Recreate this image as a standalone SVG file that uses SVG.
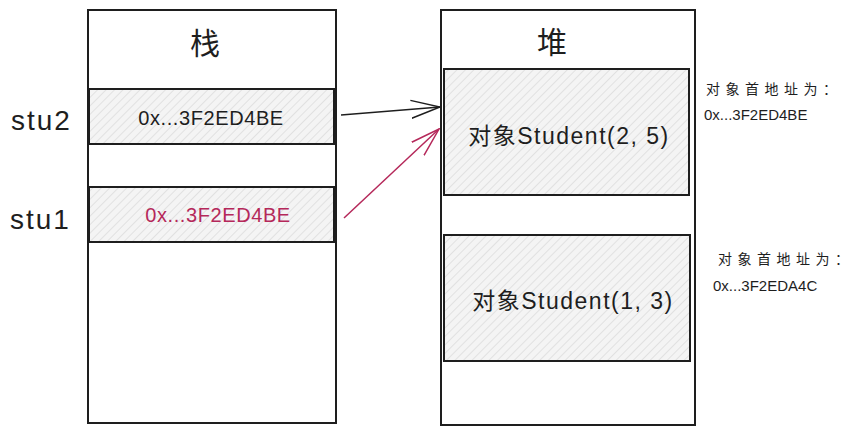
<svg xmlns="http://www.w3.org/2000/svg" width="863" height="436" viewBox="0 0 863 436">
<defs>
<pattern id="hatch" patternUnits="userSpaceOnUse" width="6" height="6" patternTransform="rotate(45)">
<rect width="6" height="6" fill="#f4f4f4"/>
<line x1="0" y1="0" x2="0" y2="6" stroke="#d4d4d4" stroke-width="1.2"/>
</pattern>
<marker id="ahb" viewBox="0 0 30 20" refX="29" refY="10" markerWidth="30" markerHeight="20" markerUnits="userSpaceOnUse" orient="auto">
<path d="M0,1 L29,10 L0,19" fill="none" stroke="#1e1e1e" stroke-width="1.5"/>
</marker>
<marker id="ahr" viewBox="0 0 30 20" refX="29" refY="10" markerWidth="30" markerHeight="20" markerUnits="userSpaceOnUse" orient="auto">
<path d="M0,1 L29,10 L0,19" fill="none" stroke="#b5285a" stroke-width="1.5"/>
</marker>
</defs>
<style>
.frame{fill:#fff;stroke:#1e1e1e;stroke-width:2}
.cell{fill:url(#hatch);stroke:#1e1e1e;stroke-width:2}
text{font-family:"Liberation Sans","Noto Sans CJK SC",sans-serif;fill:#1e1e1e}
.t{font-size:30px;text-anchor:middle}
.c{font-size:20px;letter-spacing:0.6px;text-anchor:middle}
.o{font-size:23px;letter-spacing:1.5px;text-anchor:middle}
.l{font-size:28px;letter-spacing:2px}
.a{font-size:14px;letter-spacing:5.5px}
.h{font-size:15px}
.red{fill:#b5285a}
</style>
<rect width="863" height="436" fill="#fff"/>
<g id="stack">
<rect class="frame" x="88" y="10" width="248" height="413"/>
<text class="t" x="205" y="54">栈</text>
</g>
<g id="stu2-cell">
<rect class="cell" x="89" y="89" width="245" height="55"/>
<text class="c" x="211" y="125">0x...3F2ED4BE</text>
</g>
<g id="stu1-cell">
<rect class="cell" x="89" y="187" width="245" height="55"/>
<text class="c red" x="218" y="222">0x...3F2ED4BE</text>
</g>
<g id="stu2-label"><text class="l" x="11" y="130">stu2</text></g>
<g id="stu1-label"><text class="l" x="10" y="229">stu1</text></g>
<g id="heap">
<rect class="frame" x="441" y="10" width="254" height="415"/>
<text class="t" x="552" y="53">堆</text>
</g>
<g id="obj25">
<rect class="cell" x="444" y="69" width="245" height="126"/>
<text class="o" x="569" y="144">对象Student(2, 5)</text>
</g>
<g id="obj13">
<rect class="cell" x="444" y="235" width="246" height="126"/>
<text class="o" x="573" y="309">对象Student(1, 3)</text>
</g>
<g id="note1">
<text class="a" x="706" y="94">对象首地址为：</text>
<text class="h" x="704" y="120">0x...3F2ED4BE</text>
</g>
<g id="note2">
<text class="a" x="718" y="264">对象首地址为：</text>
<text class="h" x="713" y="291">0x...3F2EDA4C</text>
</g>
<g id="connectors">
<line x1="341" y1="115" x2="440" y2="107" stroke="#1e1e1e" stroke-width="1.5" marker-end="url(#ahb)"/>
<line x1="344" y1="218" x2="439" y2="129" stroke="#b5285a" stroke-width="1.5" marker-end="url(#ahr)"/>
</g>
</svg>
